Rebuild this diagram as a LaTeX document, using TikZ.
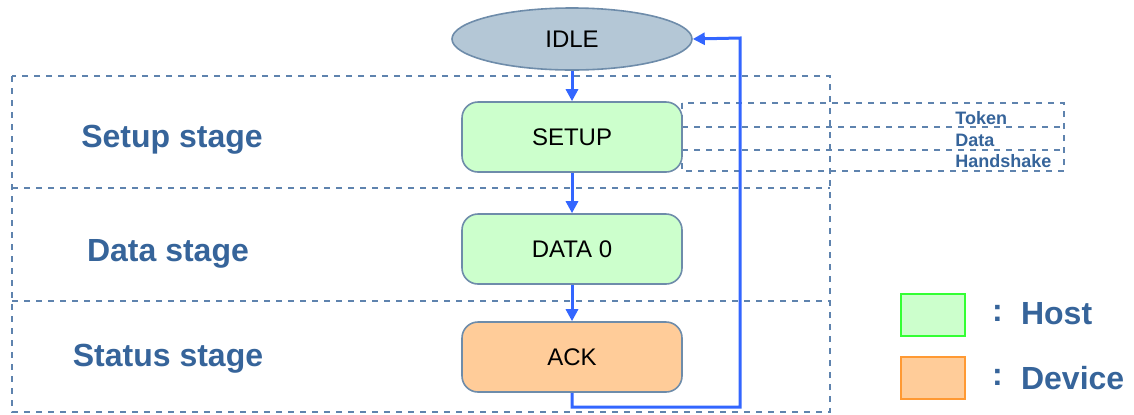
\documentclass[tikz,border=0pt]{standalone}
\usepackage{fontspec}
\setmainfont{Liberation Sans}
\usepackage{tikz}
\usetikzlibrary{shapes.geometric,arrows.meta}
\definecolor{hostgreen}{RGB}{204,255,204}
\definecolor{hostedge}{RGB}{51,255,51}
\definecolor{devorange}{RGB}{255,204,153}
\definecolor{devedge}{RGB}{255,153,51}
\definecolor{idlefill}{RGB}{180,199,214}
\definecolor{boxedge}{RGB}{110,140,170}
\definecolor{stageblue}{RGB}{54,100,154}
\definecolor{flowblue}{RGB}{51,102,255}
\tikzstyle{statebox} = [draw=boxedge, thick, rectangle, rounded corners=8pt,
    minimum width=110pt, minimum height=35pt, font=\fontsize{12}{14}\selectfont]
\tikzstyle{stagelabel} = [text=stageblue, font=\fontsize{16}{19}\selectfont\bfseries]
\tikzstyle{fieldlabel} = [text=stageblue, anchor=west, inner sep=0pt, font=\fontsize{9}{10}\selectfont\bfseries]
\tikzstyle{divider} = [draw=stageblue!80, dashed, line width=0.75pt]
\tikzstyle{flow} = [draw=flowblue, line width=1.5pt, -{Triangle[length=6pt,width=6pt]}]

\begin{document}
\begin{tikzpicture}[x=0.5pt, y=-0.5pt]
                \useasboundingbox (0,0) rectangle (1134,414);
                % stage frames
                \draw[divider] (12,76) rectangle (830,412);
                \draw[divider] (12,188) -- (830,188);
                \draw[divider] (12,301) -- (830,301);
                % token / data / handshake fields
                \draw[divider] (682,103) rectangle (1064,171);
                \draw[divider] (682,127) -- (1064,127);
                \draw[divider] (682,150) -- (1064,150);
                \node[fieldlabel] (token) at (955,118) {Token};
                \node[fieldlabel] (datafld) at (955,140) {Data};
                \node[fieldlabel] (hshake) at (955,161) {Handshake};

                \node[stagelabel] (setupstage) at (172,140) {Setup stage};
                \node[stagelabel] (datastage) at (168,254) {Data stage};
                \node[stagelabel] (statusstage) at (168,359) {Status stage};

                \node[ellipse, draw=boxedge, thick, fill=idlefill, minimum width=120pt,
                      minimum height=31pt, font=\fontsize{12}{14}\selectfont] (idle) at (572,39) {IDLE};
                \node[statebox, fill=hostgreen] (setup) at (572,137) {SETUP};
                \node[statebox, fill=hostgreen] (data0) at (572,249) {DATA 0};
                \node[statebox, fill=devorange] (ack) at (572,357) {ACK};

                \draw[flow] (idle) -- (setup);
                \draw[flow] (setup) -- (data0);
                \draw[flow] (data0) -- (ack);
                \coordinate (turnA) at (572,407);
                \coordinate (turnB) at (740,407);
                \coordinate (turnC) at (740,38);
                \draw[flow] (ack.south) -- (turnA) -- (turnB) -- (turnC) -- (idle.east);

                % legend
                \node[draw=hostedge, thick, fill=hostgreen, minimum width=32pt, minimum height=21pt] (hostkey) at (933,315) {};
                \node[draw=devedge, thick, fill=devorange, minimum width=32pt, minimum height=21pt] (devkey) at (933,378) {};
                \node[stagelabel, anchor=west] (hostcolon) at (985,313) {:};
                \node[stagelabel, anchor=west] (hostname) at (1014,314) {Host};
                \node[stagelabel, anchor=west] (devcolon) at (985,377) {:};
                \node[stagelabel, anchor=west] (devname) at (1014,378) {Device};
            \end{tikzpicture}
\end{document}
